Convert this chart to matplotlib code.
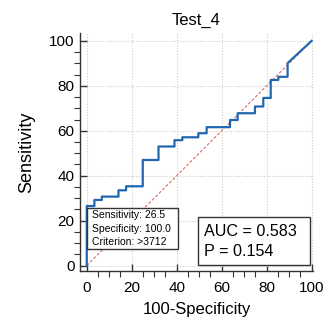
import matplotlib
matplotlib.use("Agg")
import matplotlib.pyplot as plt
from matplotlib.ticker import MultipleLocator
from matplotlib.patches import Rectangle

plt.rcParams['font.family'] = ['Liberation Sans', 'DejaVu Sans']

# ROC step curve (100-Specificity, Sensitivity)
fpr = [0, 0, 3.4, 3.4, 6.7, 6.7, 14.1, 14.1, 17.5, 17.5, 24.9, 24.9, 31.9, 31.9,
       39.0, 39.0, 42.5, 42.5, 49.6, 49.6, 53.3, 53.3, 63.7, 63.7, 67.1, 67.1,
       74.8, 74.8, 78.5, 78.5, 81.8, 81.8, 85.2, 85.2, 89.3, 89.3, 100]
tpr = [0, 26.5, 26.5, 29.2, 29.2, 30.7, 30.7, 33.5, 33.5, 35.3, 35.3, 47.0, 47.0, 53.0,
       53.0, 55.8, 55.8, 57.1, 57.1, 58.9, 58.9, 61.6, 61.6, 64.8, 64.8, 67.8,
       67.8, 70.8, 70.8, 74.6, 74.6, 82.6, 82.6, 84.0, 84.0, 90.1, 100]
diag = [0, 100]
ticks = [0, 20, 40, 60, 80, 100]
title = "Test_4"
crit_lines = ["Sensitivity: 26.5", "Specificity: 100.0", "Criterion: >3712"]
auc_lines = ["AUC = 0.583", "P = 0.154"]

W, H = 328, 325
fig = plt.figure(figsize=(W / 100, H / 100), dpi=100)
ax = fig.add_axes([80 / W, 1 - 271 / H, (313 - 80) / W, (271 - 33) / H])
ax.set_xlim(-3.0, 100.6)
ax.set_ylim(-2.4, 103.5)

ax.grid(True, which='major', color='#cccccc', linestyle=(0, (1, 1.5)), linewidth=0.8)
ax.set_axisbelow(True)
ax.plot(diag, diag, color='#d9534f', linestyle=(0, (3, 2)), linewidth=0.7, zorder=2)
ax.plot(fpr, tpr, color='#2266b0', linewidth=1.6, zorder=3)

for s in ['top', 'right']:
    ax.spines[s].set_visible(False)
for s in ['left', 'bottom']:
    ax.spines[s].set_linewidth(1.0)
    ax.spines[s].set_color('#333333')

ax.set_xticks(ticks)
ax.set_yticks(ticks)
ax.xaxis.set_minor_locator(MultipleLocator(5))
ax.yaxis.set_minor_locator(MultipleLocator(5))
ax.tick_params(which='major', direction='in', length=5, width=1, labelsize=11,
               colors='#333333', labelcolor='black')
ax.tick_params(which='minor', direction='out', length=4, width=0.8, colors='#333333')
ax.tick_params(axis='x', which='major', pad=7)
ax.tick_params(axis='y', which='major', pad=4)

ax.set_title(title, fontsize=12, pad=6)
ax.set_xlabel("100-Specificity", fontsize=12, labelpad=5)
ax.set_ylabel("Sensitivity", fontsize=13, labelpad=10)


def fx(px):
    return px / W


def fy(py):
    return 1 - py / H


# Criterion box
r1 = Rectangle((fx(87), fy(249)), fx(178) - fx(87), fy(208) - fy(249),
               transform=fig.transFigure, facecolor='white', edgecolor='#333333',
               linewidth=1.0, zorder=5, clip_on=False)
fig.patches.append(r1)
for i, t in enumerate(crit_lines):
    fig.text(fx(91.5), fy(215 + 13.5 * i), t, fontsize=7.5, va='center', ha='left', zorder=6)

# AUC box
r2 = Rectangle((fx(198), fy(265)), fx(310) - fx(198), fy(217) - fy(265),
               transform=fig.transFigure, facecolor='white', edgecolor='#333333',
               linewidth=1.0, zorder=5, clip_on=False)
fig.patches.append(r2)
for i, t in enumerate(auc_lines):
    fig.text(fx(204), fy(231 + 20 * i), t, fontsize=11.6, va='center', ha='left', zorder=6)

fig.savefig("out.png", dpi=100)
